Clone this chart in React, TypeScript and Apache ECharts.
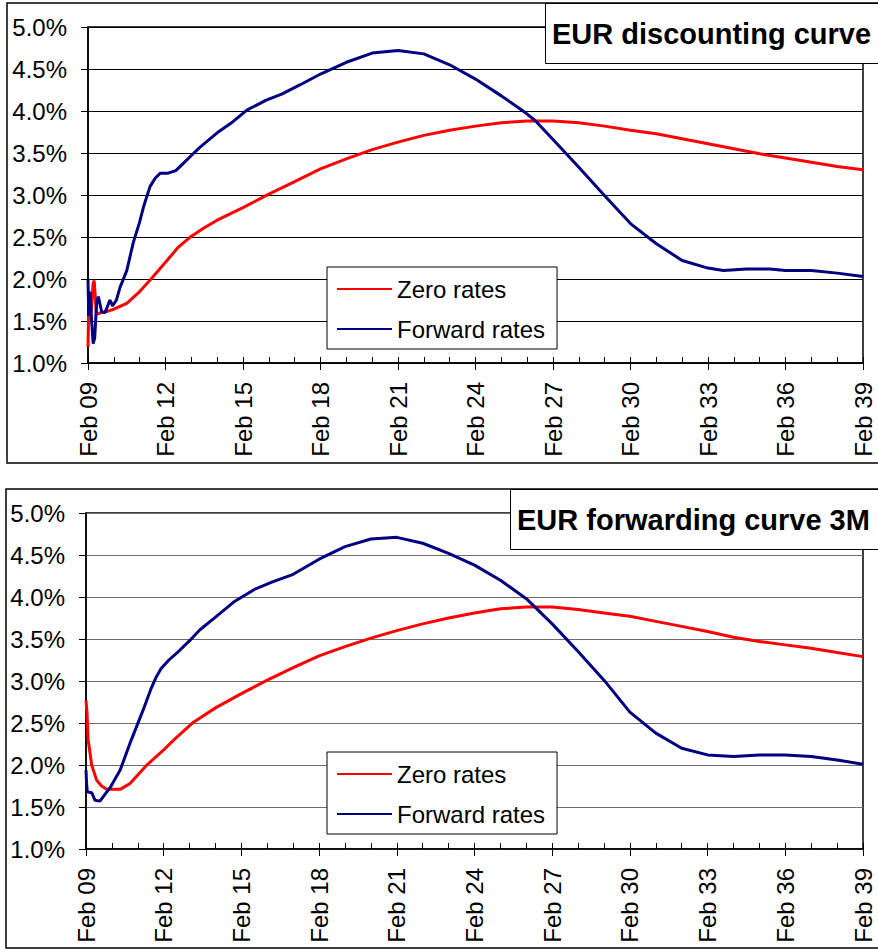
import React, { useEffect, useRef } from "react";
import * as echarts from "echarts";

// x = years after Feb 2009, y = rate in %
const xTickYears: number[] = [0, 3, 6, 9, 12, 15, 18, 21, 24, 27, 30];
const yTicks: number[] = [1, 1.5, 2, 2.5, 3, 3.5, 4, 4.5, 5];

const discZeroRates: [number, number][] = [
  [0, 1.19], [0.02, 1.55], [0.12, 1.6], [0.2, 1.95], [0.24, 1.98], [0.3, 1.7], [0.33, 1.58],
  [0.5, 1.6], [0.8, 1.62], [1.0, 1.64], [1.5, 1.71], [2.0, 1.85], [2.5, 2.02], [3.0, 2.2],
  [3.5, 2.38], [4.0, 2.51], [4.5, 2.61], [5, 2.7], [6, 2.85], [7, 3.01], [8, 3.16], [9, 3.31],
  [10, 3.43], [11, 3.54], [12, 3.63], [13, 3.71], [14, 3.77], [15, 3.82], [16, 3.86], [17, 3.88],
  [18, 3.88], [19, 3.86], [20, 3.82], [21, 3.77], [22, 3.73], [23, 3.67], [24, 3.61], [25, 3.55],
  [26, 3.49], [27, 3.44], [28, 3.39], [29, 3.34], [30, 3.3],
];

const discForwardRates: [number, number][] = [
  [0, 1.99], [0.03, 1.56], [0.08, 1.85], [0.13, 1.55], [0.2, 1.23], [0.26, 1.3], [0.33, 1.7],
  [0.4, 1.79], [0.53, 1.61], [0.66, 1.6], [0.85, 1.75], [0.95, 1.68], [1.1, 1.75], [1.24, 1.9],
  [1.5, 2.1], [1.75, 2.43], [2.0, 2.68], [2.15, 2.86], [2.4, 3.1], [2.6, 3.2], [2.8, 3.26],
  [3.1, 3.26], [3.4, 3.29], [3.7, 3.38], [4.0, 3.47], [4.34, 3.57], [5.0, 3.74], [5.6, 3.87],
  [6.15, 4.01], [6.9, 4.13], [7.5, 4.2], [8.2, 4.31], [9, 4.44], [10, 4.58], [11, 4.69],
  [12, 4.72], [13, 4.68], [14, 4.55], [15, 4.38], [16, 4.18], [16.8, 4.01], [17.3, 3.89],
  [18, 3.66], [19, 3.33], [20, 2.99], [21, 2.66], [22, 2.42], [23, 2.22], [24, 2.13], [24.6, 2.1],
  [25.5, 2.12], [26.4, 2.12], [27, 2.1], [28, 2.1], [29, 2.07], [30, 2.03],
];

const fwdZeroRates: [number, number][] = [
  [0, 2.77], [0.04, 2.62], [0.08, 2.3], [0.12, 2.22], [0.22, 2.0], [0.41, 1.82], [0.6, 1.75],
  [0.8, 1.71], [1.32, 1.71], [1.7, 1.78], [2.35, 2.0], [3, 2.18], [3.5, 2.33], [4.15, 2.51],
  [5, 2.68], [6, 2.85], [7, 3.01], [8, 3.16], [9, 3.3], [10, 3.41], [11, 3.51], [12, 3.6],
  [13, 3.68], [14, 3.75], [15, 3.81], [16, 3.86], [17, 3.88], [18, 3.88], [19, 3.85], [20, 3.81],
  [21, 3.77], [22, 3.71], [23, 3.65], [24, 3.59], [25, 3.52], [26, 3.47], [27, 3.43], [28, 3.39],
  [29, 3.34], [30, 3.29],
];

const fwdForwardRates: [number, number][] = [
  [0, 1.94], [0.02, 1.79], [0.05, 1.68], [0.22, 1.67], [0.35, 1.58], [0.54, 1.57], [0.66, 1.62],
  [0.93, 1.73], [1.32, 1.94], [1.7, 2.26], [2.2, 2.65], [2.5, 2.9], [2.7, 3.04], [2.9, 3.15],
  [3.2, 3.25], [3.6, 3.36], [4.0, 3.48], [4.4, 3.61], [5, 3.76], [5.7, 3.94], [6.5, 4.09],
  [7.2, 4.18], [8, 4.27], [9, 4.45], [10, 4.6], [11, 4.69], [12, 4.71], [13, 4.64], [14, 4.52],
  [15, 4.38], [16, 4.2], [17, 3.98], [18, 3.68], [19, 3.35], [20, 3.01], [21, 2.63], [22, 2.38],
  [23, 2.2], [24, 2.12], [25, 2.1], [26, 2.12], [27, 2.12], [28, 2.1], [29, 2.06], [30, 2.01],
];

const seriesNames = ["Zero rates", "Forward rates"];
const titles = ["EUR discounting curve", "EUR forwarding curve 3M"];

const FONT = "Liberation Sans, Arial, sans-serif";
const RED = "#ff0000";
const NAVY = "#000080";

function yearLabel(v: number): string {
  return "Feb " + String((9 + Math.round(v)) % 100).padStart(2, "0");
}

export default function App() {
  const ref = useRef<HTMLDivElement>(null);

  useEffect(() => {
    if (!ref.current) return;
    const chart = echarts.init(ref.current, undefined, { renderer: "svg" });

    const grids = [
      { left: 88, top: 27, width: 775, height: 336 },
      { left: 86, top: 513, width: 777, height: 336 },
    ];
    const gridColors = ["#000000", "#6e6e6e"];

    const xAxes: any[] = [];
    const yAxes: any[] = [];
    grids.forEach((g, i) => {
      xAxes.push({
        gridIndex: i,
        type: "value",
        position: "bottom",
        min: xTickYears[0],
        max: xTickYears[xTickYears.length - 1],
        interval: 3,
        axisLine: { show: true, onZero: false, lineStyle: { color: "#000", width: 1.5 } },
        axisTick: { show: true, length: 7, lineStyle: { color: "#000", width: 1 } },
        axisLabel: {
          rotate: 90,
          margin: 19,
          fontSize: 24,
          color: "#000",
          fontFamily: FONT,
          formatter: yearLabel,
        },
        splitLine: { show: false },
      });
      xAxes.push({
        gridIndex: i,
        type: "value",
        position: "bottom",
        min: xTickYears[0],
        max: xTickYears[xTickYears.length - 1],
        interval: 1,
        axisLine: { show: false, onZero: false },
        axisTick: { show: true, inside: true, length: 6, lineStyle: { color: "#000", width: 1 } },
        axisLabel: { show: false },
        splitLine: { show: false },
      });
      yAxes.push({
        gridIndex: i,
        type: "value",
        min: yTicks[0],
        max: yTicks[yTicks.length - 1],
        interval: 0.5,
        axisLine: { show: true, lineStyle: { color: "#000", width: 1.5 } },
        axisTick: { show: true, length: 7, lineStyle: { color: "#000", width: 1 } },
        axisLabel: {
          margin: 21,
          fontSize: 24,
          color: "#000",
          fontFamily: FONT,
          formatter: (v: number) => v.toFixed(1) + "%",
        },
        splitLine: { show: true, lineStyle: { color: gridColors[i], width: 1.2 } },
      });
    });

    const datasets = [
      [discZeroRates, discForwardRates],
      [fwdZeroRates, fwdForwardRates],
    ];
    const series: any[] = [];
    datasets.forEach((pair, i) => {
      pair.forEach((data, j) => {
        series.push({
          type: "line",
          name: seriesNames[j],
          xAxisIndex: i * 2,
          yAxisIndex: i,
          data,
          symbol: "none",
          showSymbol: false,
          color: j === 0 ? RED : NAVY,
          lineStyle: { width: 3, color: j === 0 ? RED : NAVY },
        });
      });
    });

    const legendBase = {
      orient: "vertical",
      left: 327,
      data: seriesNames,
      icon: "rect",
      itemWidth: 55,
      itemHeight: 2,
      itemGap: 12,
      padding: [8, 12, 6, 10],
      borderColor: "#000",
      borderWidth: 1,
      backgroundColor: "#fff",
      selectedMode: false,
      textStyle: { fontSize: 24, color: "#000", fontFamily: FONT, lineHeight: 28 },
    };

    const titleBase = {
      padding: [12, 40, 12, 7],
      borderColor: "#000",
      borderWidth: 1,
      backgroundColor: "#fff",
      textStyle: { fontSize: 29, fontWeight: "bold", color: "#000", fontFamily: FONT, lineHeight: 37 },
    };

    chart.setOption({
      animation: false,
      backgroundColor: "#fff",
      title: [
        { ...titleBase, text: titles[0], left: 545, top: 3 },
        { ...titleBase, text: titles[1], left: 510, top: 489 },
      ],
      legend: [
        { ...legendBase, top: 267 },
        { ...legendBase, top: 752 },
      ],
      grid: grids.map((g) => ({ ...g, show: true, borderColor: "#000", borderWidth: 1.5, containLabel: false })),
      xAxis: xAxes,
      yAxis: yAxes,
      series,
      graphic: [
        { type: "rect", z: -10, shape: { x: 7, y: 3, width: 900, height: 460 }, style: { fill: "none", stroke: "#000", lineWidth: 1.5 } },
        { type: "rect", z: -10, shape: { x: 6, y: 489, width: 900, height: 459 }, style: { fill: "none", stroke: "#000", lineWidth: 1.5 } },
      ],
    });

    return () => chart.dispose();
  }, []);

  return (
    <div
      ref={ref}
      style={{ position: "absolute", left: 0, top: 0, width: 878, height: 952, background: "#fff" }}
    />
  );
}
